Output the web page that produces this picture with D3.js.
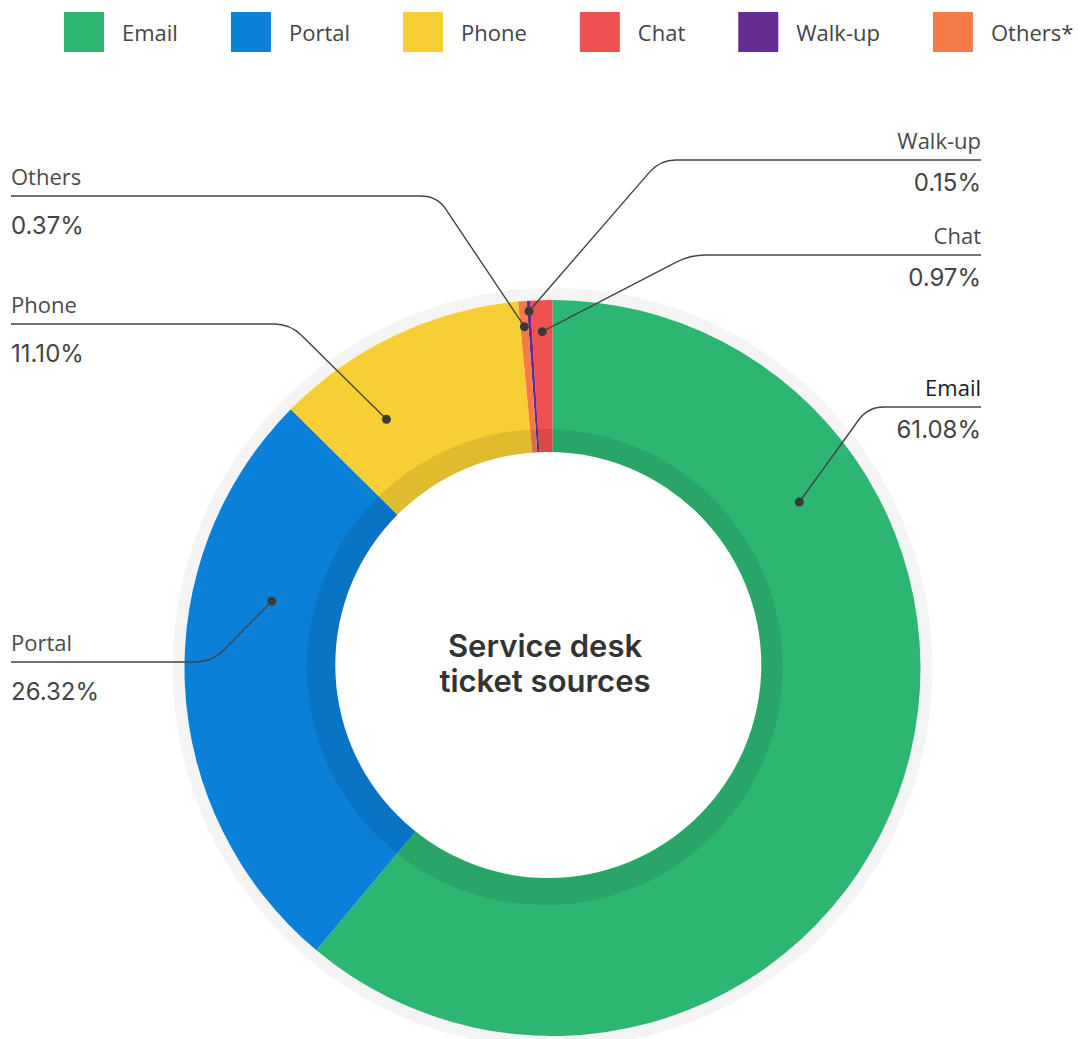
<!DOCTYPE html>
<html>
<head>
<meta charset="utf-8">
<script src="https://cdn.jsdelivr.net/npm/d3@7"></script>
<style>
  body { margin: 0; background: #fff; }
  svg { display: block; }
</style>
</head>
<body>
<svg id="chart" width="1078" height="1039"></svg>
<script>
// Ticket sources and their shares (percent)
const categories   = ["Email", "Portal", "Phone", "Chat", "Walk-up", "Others"];
const legendLabels = ["Email", "Portal", "Phone", "Chat", "Walk-up", "Others*"];
const calloutNames = ["Email", "Portal", "Phone", "Chat", "Walk-up", "Others"];
const shares       = [61.08, 26.32, 11.10, 0.97, 0.15, 0.37];
// Clockwise order of the slices around the ring, starting at 12 o'clock
const ringOrder    = ["Email", "Portal", "Phone", "Others", "Walk-up", "Chat"];

const colors = ["#2db672", "#0b80d8", "#f5cf33", "#ef5150", "#652b90", "#f57a4a"];

// Callout layout: which side the label sits on, the y of its rule, the x of the elbow,
// where along the slice (0..1) and how far across the ring (0..1) the dot sits.
const calloutLayout = {
  "Email":   { side: "right", lineY: 407, kneeX: 868, along: 0.255, across: 0.53 },
  "Portal":  { side: "left",  lineY: 662, kneeX: 212, along: 0.67,  across: 0.47 },
  "Phone":   { side: "left",  lineY: 324, kneeX: 290, along: 0.29,  across: 0.54 },
  "Chat":    { side: "right", lineY: 255, kneeX: 690, along: 0.5,   across: 0.79 },
  "Walk-up": { side: "right", lineY: 160, kneeX: 660, along: 0.5,   across: 0.93 },
  "Others":  { side: "left",  lineY: 196, kneeX: 437, along: 0.5,   across: 0.83 }
};

const W = 1078, H = 1039;
const cx = 552.5, cy = 668;
const rOuter = 368, rHalo = 380;
// the hole and its soft shadow band sit slightly left of the ring's centre
const hole = { dx: -4.2, dy: -3, r: 213 };
const band = { dx: -7.7, dy: -1, r: 238 };
const leftX = 11, rightX = 981;

const svg = d3.select("#chart");
const color = d3.scaleOrdinal().domain(categories).range(colors);

const data = categories.map((c, i) => ({ cat: c, share: shares[i], name: calloutNames[i], i }));

// ---- legend ----
const legend = svg.append("g").attr("class", "legend");
const sq = 40, sqGap = 18, itemGap = 53;
let lx = 64;
legendLabels.forEach((lab, i) => {
  const g = legend.append("g").attr("transform", `translate(${lx},12)`);
  g.append("rect").attr("width", sq).attr("height", sq).attr("fill", color(categories[i]));
  const t = g.append("text")
    .attr("x", sq + sqGap).attr("y", 28.5)
    .attr("font-family", "'Open Sans', sans-serif")
    .attr("font-size", 22)
    .attr("fill", "#444")
    .text(lab);
  lx += sq + sqGap + t.node().getComputedTextLength() + itemGap;
});

// ---- donut ----
const pie = d3.pie()
  .value(d => d.share)
  .sort((a, b) => ringOrder.indexOf(a.cat) - ringOrder.indexOf(b.cat))
  .startAngle(0)
  .endAngle(2 * Math.PI);
const arcs = pie(data);

const chart = svg.append("g").attr("transform", `translate(${cx},${cy})`);

// pale halo ring behind the slices
chart.append("path")
  .attr("d", d3.arc().innerRadius(rOuter - 2).outerRadius(rHalo)({ startAngle: 0, endAngle: 2 * Math.PI }))
  .attr("fill", "#f4f4f4");

const arc = d3.arc().innerRadius(150).outerRadius(rOuter);
chart.selectAll("path.slice")
  .data(arcs)
  .join("path")
  .attr("class", "slice")
  .attr("d", arc)
  .attr("fill", d => color(d.data.cat));

// darker band around the hole
chart.append("circle")
  .attr("cx", band.dx).attr("cy", band.dy).attr("r", band.r)
  .attr("fill", "#000")
  .attr("fill-opacity", 0.09);

// the hole
chart.append("circle")
  .attr("cx", hole.dx).attr("cy", hole.dy).attr("r", hole.r)
  .attr("fill", "#fff");

// centre title
const title = chart.append("text")
  .attr("text-anchor", "middle")
  .attr("font-family", "Inter, sans-serif")
  .attr("font-weight", 600)
  .attr("font-size", 31)
  .attr("fill", "#333");
title.append("tspan").attr("x", -7.5).attr("y", -11).text("Service desk");
title.append("tspan").attr("x", -7.5).attr("y", 24).text("ticket sources");

// ---- callouts ----
const callouts = svg.append("g").attr("class", "callouts");
const rInnerRing = hole.r + 5;
const rc = 16; // elbow rounding

arcs.forEach(a => {
  const cat = a.data.cat;
  const L = calloutLayout[cat];
  const ang = a.startAngle + (a.endAngle - a.startAngle) * L.along;
  const rr = rInnerRing + (rOuter - rInnerRing) * L.across;
  const dx = cx + rr * Math.sin(ang);
  const dy = cy - rr * Math.cos(ang);
  const kx = L.kneeX, ky = L.lineY;
  const endX = L.side === "right" ? rightX : leftX;

  // point before the elbow along the diagonal, and after it along the rule
  const len = Math.hypot(kx - dx, ky - dy);
  const bx = kx - (kx - dx) / len * rc, by = ky - (ky - dy) / len * rc;
  const ax = kx + (endX > kx ? rc : -rc);
  const path = d3.path();
  path.moveTo(dx, dy);
  path.lineTo(bx, by);
  path.quadraticCurveTo(kx, ky, ax, ky);
  path.lineTo(endX, ky);

  callouts.append("path")
    .attr("d", path.toString())
    .attr("fill", "none")
    .attr("stroke", "#444")
    .attr("stroke-width", 1.4);

  callouts.append("circle")
    .attr("cx", dx).attr("cy", dy).attr("r", 4.5)
    .attr("fill", "#3a3a3a");

  const anchor = L.side === "right" ? "end" : "start";
  callouts.append("text")
    .attr("x", endX).attr("y", ky - 11)
    .attr("text-anchor", anchor)
    .attr("font-family", "'Open Sans', sans-serif")
    .attr("font-size", 22)
    .attr("fill", cat === "Email" ? "#1a1a1a" : "#4a4a4a")
    .text(a.data.name);

  callouts.append("text")
    .attr("x", endX).attr("y", ky + (L.side === "right" ? 31 : 38))
    .attr("text-anchor", anchor)
    .attr("font-family", "Inter, sans-serif")
    .attr("font-size", 24)
    .attr("fill", "#444")
    .text(d3.format(".2f")(a.data.share) + "%");
});
</script>
</body>
</html>
